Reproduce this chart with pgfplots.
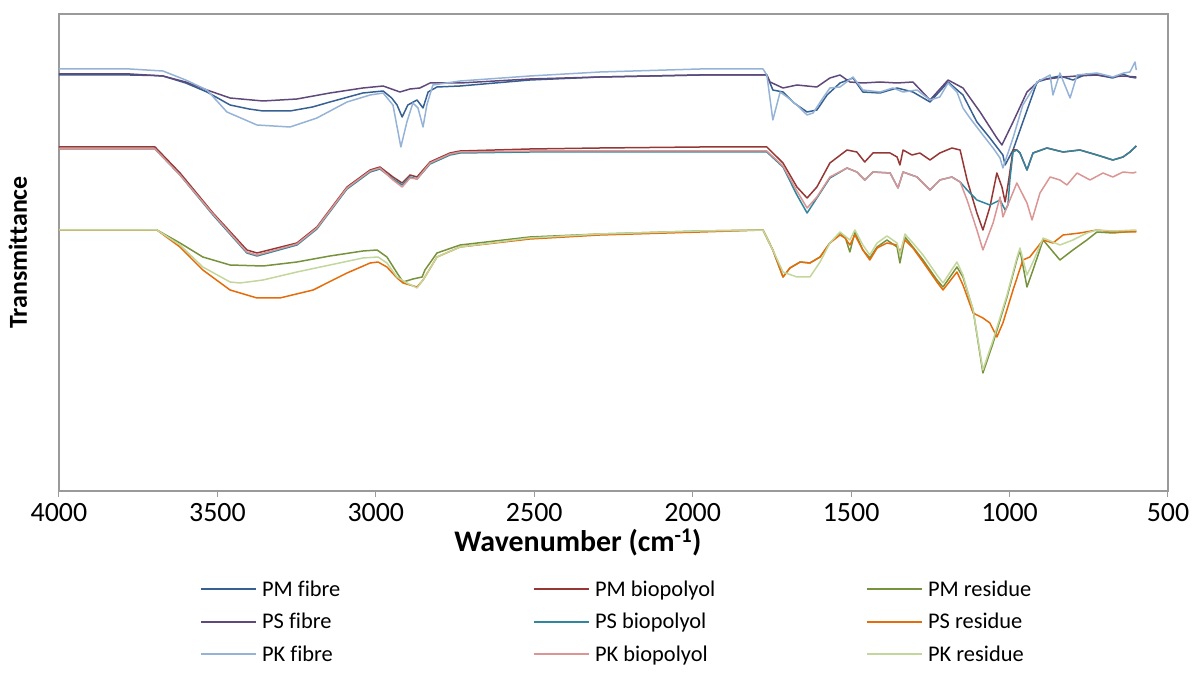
\documentclass[border=0pt]{standalone}
\usepackage{fontspec}
\setmainfont{Carlito}[Ligatures=NoCommon]
\usepackage{pgfplots}
\pgfplotsset{compat=1.18}
\definecolor{PMfibre}{HTML}{376092}
\definecolor{PMbio}{HTML}{953735}
\definecolor{PMres}{HTML}{76923C}
\definecolor{PSfibre}{HTML}{5F497A}
\definecolor{PSbio}{HTML}{31859C}
\definecolor{PSres}{HTML}{E46C0A}
\definecolor{PKfibre}{HTML}{95B3D7}
\definecolor{PKbio}{HTML}{D99694}
\definecolor{PKres}{HTML}{C3D69B}
\definecolor{axisgray}{HTML}{9A9A9A}
\begin{document}
\begin{tikzpicture}
\useasboundingbox (-59bp,-203bp) rectangle (1133bp,491bp);
\begin{axis}[
  at={(0,0)}, anchor=south west,
  scale only axis, width=1109bp, height=477bp,
  x dir=reverse, xmin=500, xmax=4000, ymin=9, ymax=486,
  xtick={500,1000,...,4000}, ytick=\empty,
  axis line style={draw=axisgray, line width=1.2bp},
  tick align=outside, major tick length=6bp,
  xtick style={draw=axisgray, line width=1bp},
  tick pos=left,
  x tick label style={font=\fontsize{28}{32}\selectfont, yshift=-3bp, /pgf/number format/assume math mode=true, /pgf/number format/1000 sep={}},
  xlabel={Wavenumber (cm\textsuperscript{-1})},
  ylabel={Transmittance},
  xlabel style={font=\fontsize{30}{34}\selectfont\bfseries, at={(axis description cs:0.468,-0.107)}, anchor=center},
  ylabel style={font=\fontsize{26}{30}\selectfont\bfseries, at={(axis description cs:-0.037,0.5)}, anchor=center},
  every axis plot/.append style={line width=1.5bp, line join=round},
  legend columns=3,
  legend style={draw=none, fill=none, inner sep=0pt, at={(axis description cs:0.1271,-0.1876)}, anchor=north west, font=\fontsize{22.5}{26}\selectfont, nodes={inner sep=0pt}, row sep=15.5bp},
  legend cell align=left,
  legend image code/.code={\draw[#1, line width=2bp] (0bp,0bp) -- (55bp,0bp);},
]
% PM fibre
\addplot[color=PMfibre] coordinates {
(4000,425)(3900,425)(3776,425)(3700,424.5)(3672,424)(3600,417)(3533,408)(3460,395)(3400,391)(3356,389)(3271,389)(3200,393)(3145,398)(3041,407)(2977,409)(2950,402)(2933,395)(2917,383)(2899,395)(2870,400)(2851,392)(2835,408)(2807,413)(2734,414)(2514,420)(2293,423)(1977,425)(1766,425)(1747,410)(1715,408)(1680,397)(1639,388)(1608,390)(1576,405)(1535,417)(1494,422)(1463,408)(1409,407)(1355,412)(1305,408)(1251,398)(1194,418)(1147,405)(1103,378)(1062,362)(1021,345)(1014,335)(989,350)(958,378)(913,418)(872,422)(841,424)(800,420)(756,426)(724,425)(674,422)(642,426)(620,423)(600,422)};
\addlegendentry{\makebox[276bp][l]{\hspace{5bp}PM fibre}}
% PM biopolyol
\addplot[color=PMbio] coordinates {
(4000,353)(3697,353)(3618,327)(3514,287)(3407,250)(3375,247)(3249,257)(3186,273)(3091,313)(3018,330)(2987,333)(2946,323)(2917,317)(2892,325)(2870,323)(2829,338)(2766,347)(2734,349)(2514,351)(2293,352)(1977,353)(1766,353)(1715,337)(1671,313)(1639,302)(1608,313)(1567,337)(1513,350)(1482,348)(1457,338)(1431,347)(1377,347)(1355,343)(1346,335)(1336,350)(1308,345)(1283,347)(1251,340)(1220,347)(1182,352)(1156,350)(1134,320)(1103,287)(1084,270)(1062,293)(1040,327)(1024,313)(1014,298)(1005,315)(989,350)(977,350)(967,347)(945,330)(926,347)(882,352)(831,348)(778,350)(724,345)(674,340)(642,343)(620,348)(600,354)};
\addlegendentry{\makebox[276bp][l]{\hspace{5bp}PM biopolyol}}
% PM residue
\addplot[color=PMres] coordinates {
(4000,270)(3691,270)(3618,257)(3546,243)(3460,235)(3356,234)(3249,238)(3145,244)(3041,249)(2996,250)(2965,243)(2933,227)(2914,218)(2883,221)(2854,223)(2845,230)(2807,247)(2734,255)(2514,263)(2293,266)(1977,269)(1778,270)(1747,250)(1715,223)(1693,232)(1661,238)(1630,237)(1598,243)(1567,257)(1535,267)(1519,263)(1504,248)(1488,268)(1463,250)(1441,242)(1418,253)(1387,260)(1355,253)(1346,237)(1330,263)(1305,253)(1273,240)(1229,220)(1210,213)(1166,233)(1147,223)(1115,190)(1084,127)(1052,157)(1008,203)(977,240)(967,250)(945,213)(926,230)(894,260)(841,240)(800,250)(756,260)(724,268)(674,267)(600,269)};
\addlegendentry{\hspace{5bp}PM residue}
% PS fibre
\addplot[color=PSfibre] coordinates {
(4000,426)(3776,426)(3672,424)(3600,418)(3533,410)(3460,402)(3356,399)(3249,401)(3145,407)(3041,412)(2977,414)(2924,408)(2892,411)(2861,412)(2829,417)(2734,417)(2514,421)(2293,423)(1977,425)(1766,425)(1756,418)(1715,412)(1671,415)(1608,413)(1567,422)(1535,425)(1504,418)(1463,417)(1409,418)(1355,417)(1305,418)(1251,400)(1194,420)(1147,412)(1093,388)(1040,362)(1024,355)(989,378)(945,408)(904,420)(831,423)(787,424)(724,425)(674,423)(642,424)(600,423)};
\addlegendentry{\makebox[276bp][l]{\hspace{5bp}PS fibre}}
% PS biopolyol
\addplot[color=PSbio] coordinates {
(4000,351)(3697,351)(3618,325)(3514,285)(3407,247)(3375,244)(3249,255)(3186,271)(3091,311)(3018,328)(2987,331)(2946,321)(2917,315)(2892,323)(2870,321)(2829,336)(2766,345)(2734,347)(2514,348)(2293,348)(1977,348)(1766,348)(1715,333)(1671,305)(1639,287)(1608,302)(1567,322)(1513,332)(1482,328)(1457,320)(1431,328)(1377,327)(1352,312)(1336,328)(1292,323)(1251,310)(1220,320)(1182,323)(1156,318)(1134,310)(1103,300)(1062,295)(1030,300)(1014,290)(1005,295)(999,320)(989,348)(977,350)(967,347)(945,330)(926,347)(882,352)(831,348)(778,350)(724,345)(674,340)(642,343)(620,348)(600,354)};
\addlegendentry{\makebox[276bp][l]{\hspace{5bp}PS biopolyol}}
% PS residue
\addplot[color=PSres] coordinates {
(4000,270)(3691,270)(3618,253)(3546,230)(3460,210)(3375,202)(3303,202)(3198,210)(3091,227)(3018,237)(2993,238)(2965,233)(2933,222)(2914,217)(2870,213)(2851,220)(2807,243)(2734,253)(2514,261)(2293,265)(1977,268)(1778,270)(1747,250)(1715,223)(1693,232)(1661,238)(1630,237)(1598,243)(1567,257)(1535,265)(1519,262)(1504,255)(1488,265)(1463,250)(1441,240)(1418,252)(1387,257)(1355,255)(1346,248)(1330,260)(1305,252)(1273,238)(1229,218)(1210,210)(1166,228)(1147,215)(1115,187)(1084,182)(1062,177)(1040,163)(1021,177)(989,210)(958,240)(936,243)(894,260)(863,257)(831,265)(778,267)(724,270)(674,268)(600,268)};
\addlegendentry{\hspace{5bp}PS residue}
% PK fibre
\addplot[color=PKfibre] coordinates {
(4000,431)(3776,431)(3672,429)(3600,420)(3533,410)(3470,388)(3375,375)(3271,373)(3186,382)(3091,398)(3018,405)(2977,407)(2946,395)(2921,353)(2902,378)(2883,397)(2867,392)(2851,373)(2839,395)(2820,415)(2734,419)(2514,424)(2293,428)(1977,431)(1778,431)(1766,425)(1747,380)(1724,408)(1702,403)(1671,395)(1639,385)(1620,387)(1589,402)(1567,412)(1535,413)(1494,423)(1463,410)(1409,408)(1368,412)(1336,408)(1292,410)(1251,400)(1220,403)(1194,417)(1166,408)(1147,392)(1125,382)(1084,365)(1052,352)(1030,342)(1021,332)(989,362)(958,395)(913,418)(872,425)(863,405)(841,427)(809,402)(787,425)(724,427)(674,423)(640,427)(620,428)(604,438)(600,430)};
\addlegendentry{\makebox[276bp][l]{\hspace{5bp}PK fibre}}
% PK biopolyol
\addplot[color=PKbio] coordinates {
(4000,351)(3697,351)(3618,325)(3514,286)(3407,248)(3375,245)(3249,256)(3186,272)(3091,312)(3018,329)(2987,332)(2946,320)(2917,313)(2892,322)(2870,321)(2829,337)(2766,346)(2734,348)(2514,349)(2293,349)(1977,349)(1766,349)(1715,334)(1671,309)(1639,292)(1608,303)(1567,323)(1513,332)(1482,328)(1457,320)(1431,328)(1377,327)(1352,312)(1336,328)(1292,323)(1251,310)(1220,320)(1182,323)(1156,318)(1134,300)(1103,270)(1084,250)(1052,277)(1030,303)(1021,283)(1008,293)(977,317)(945,297)(929,280)(904,307)(872,323)(841,320)(819,315)(787,327)(746,320)(705,327)(674,323)(642,328)(610,327)(600,328)};
\addlegendentry{\makebox[276bp][l]{\hspace{5bp}PK biopolyol}}
% PK residue
\addplot[color=PKres] coordinates {
(4000,270)(3691,270)(3618,255)(3546,233)(3460,218)(3429,217)(3356,220)(3249,228)(3145,235)(3041,242)(2993,243)(2965,237)(2933,223)(2902,217)(2870,212)(2851,220)(2807,243)(2734,253)(2514,262)(2293,266)(1977,269)(1778,270)(1747,250)(1715,228)(1671,223)(1630,223)(1598,238)(1567,257)(1535,268)(1504,260)(1488,270)(1463,255)(1441,245)(1418,257)(1387,264)(1355,257)(1346,245)(1330,266)(1305,257)(1273,245)(1229,225)(1210,217)(1166,238)(1147,225)(1115,190)(1084,130)(1052,160)(1008,205)(977,242)(967,252)(945,225)(926,238)(894,262)(841,255)(800,260)(756,267)(724,270)(674,269)(600,270)};
\addlegendentry{\hspace{5bp}PK residue}
\end{axis}
\end{tikzpicture}
\end{document}
